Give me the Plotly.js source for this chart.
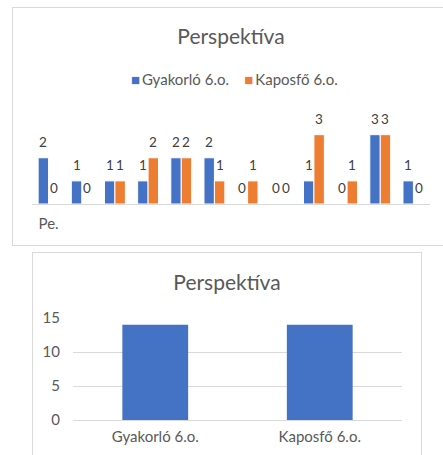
<!DOCTYPE html>
<html>
<head>
<meta charset="utf-8">
<script src="https://cdn.plot.ly/plotly-3.0.1.min.js"></script>
<style>
  html, body { margin:0; padding:0; background:#fff; width:443px; height:455px; overflow:hidden; position:relative; }
  .frame { position:absolute; border:1px solid #d9d9d9; background:#fff; }
  #c1 { left:12px; top:7px; width:436px; height:237px; }
  #c2 { left:32px; top:252px; width:388px; height:210px; }
</style>
</head>
<body>
<div id="c1" class="frame"></div>
<div id="c2" class="frame"></div>
<script>
// ---- data ----
const catLabels = ['Pe.', '', '', '', '', '', '', '', '', '', '', ''];
const gyakorlo = [2, 1, 1, 1, 2, 2, 0, 0, 1, 0, 3, 1];
const kaposfo  = [0, 0, 1, 2, 2, 1, 1, 0, 3, 1, 3, 0];
const seriesNames = ['Gyakorló 6.o.', 'Kaposfő 6.o.'];
const totals = [14, 14];
const chartTitle = 'Perspektíva';

// ---- styles ----
const BLUE = '#4472C4', ORANGE = '#ED7D31';
const FONT = 'Lato, "Open Sans", sans-serif';
const TXT = '#595959', LBL = '#404040', GRID = '#d9d9d9';
const FS = 15, LFS = 13.5, TFS = 21;

// ---- top chart ----
const idx = catLabels.map((_, i) => i);
const bargap = 0.37;
const half = (1 - bargap) / 4;
const traces1 = [
  {type:'bar', x: idx, y: gyakorlo, name: seriesNames[0], marker:{color:BLUE, line:{color:'#ffffff', width:1}}, showlegend:false, hoverinfo:'none'},
  {type:'bar', x: idx, y: kaposfo,  name: seriesNames[1], marker:{color:ORANGE, line:{color:'#ffffff', width:1}}, showlegend:false, hoverinfo:'none'}
];
const ann1 = [];
[[gyakorlo, -half], [kaposfo, half]].forEach(([vals, off]) => {
  vals.forEach((v, i) => {
    ann1.push({x: i + off, y: v, xref:'x', yref:'y', text: String(v), showarrow:false,
               yshift: 16, font:{family:FONT, size:LFS, color:LBL}});
  });
});
ann1.push({
  xref:'paper', yref:'paper', x:0.51, y:1.202, xanchor:'center', yanchor:'middle', showarrow:false,
  text: "<span style='color:" + BLUE + "'>■</span>&#8201;" + seriesNames[0] +
        "&nbsp;&nbsp;&nbsp;&nbsp;<span style='color:" + ORANGE + "'>■</span>&#8201;" + seriesNames[1],
  font:{family:FONT, size:FS, color:TXT}
});
const layout1 = {
  width:436, height:237,
  margin:{l:19, r:19, t:92, b:41},
  paper_bgcolor:'#fff', plot_bgcolor:'#fff',
  barmode:'group', bargap: bargap, bargroupgap: 0,
  title:{text: chartTitle, x:0.5, xanchor:'center', y:1 - 29/237, yanchor:'middle', yref:'container',
         font:{family:FONT, size:TFS, color:TXT}},
  showlegend:false,
  xaxis:{range:[-0.5, 11.5], tickvals: idx, ticktext: catLabels, showgrid:false, zeroline:false,
         showline:true, linecolor:GRID, linewidth:1, ticks:'', ticklabelstandoff:6,
         tickfont:{family:FONT, size:FS, color:TXT}, fixedrange:true},
  yaxis:{range:[0, 4.5], visible:false, showgrid:false, zeroline:false, fixedrange:true},
  annotations: ann1
};
Plotly.newPlot('c1', traces1, layout1, {staticPlot:true, displayModeBar:false});

// ---- bottom chart ----
const traces2 = [
  {type:'bar', x: seriesNames, y: totals, marker:{color:BLUE}, showlegend:false, hoverinfo:'none'}
];
const layout2 = {
  width:388, height:210,
  margin:{l:40, r:19, t:65, b:43},
  paper_bgcolor:'#fff', plot_bgcolor:'#fff',
  bargap:0.6,
  title:{text: chartTitle, x:0.5, xanchor:'center', y:1 - 30/210, yanchor:'middle', yref:'container',
         font:{family:FONT, size:TFS, color:TXT}},
  xaxis:{showgrid:false, zeroline:false, showline:false, ticks:'', ticklabelstandoff:6,
         tickfont:{family:FONT, size:FS, color:TXT}, fixedrange:true},
  yaxis:{range:[0, 15], tickvals:[0, 5, 10, 15], showgrid:true, gridcolor:GRID, gridwidth:1,
         zeroline:true, zerolinecolor:GRID, zerolinewidth:1, ticks:'', ticklabelstandoff:12,
         tickfont:{family:FONT, size:FS, color:TXT}, fixedrange:true}
};
Plotly.newPlot('c2', traces2, layout2, {staticPlot:true, displayModeBar:false});
</script>
</body>
</html>
